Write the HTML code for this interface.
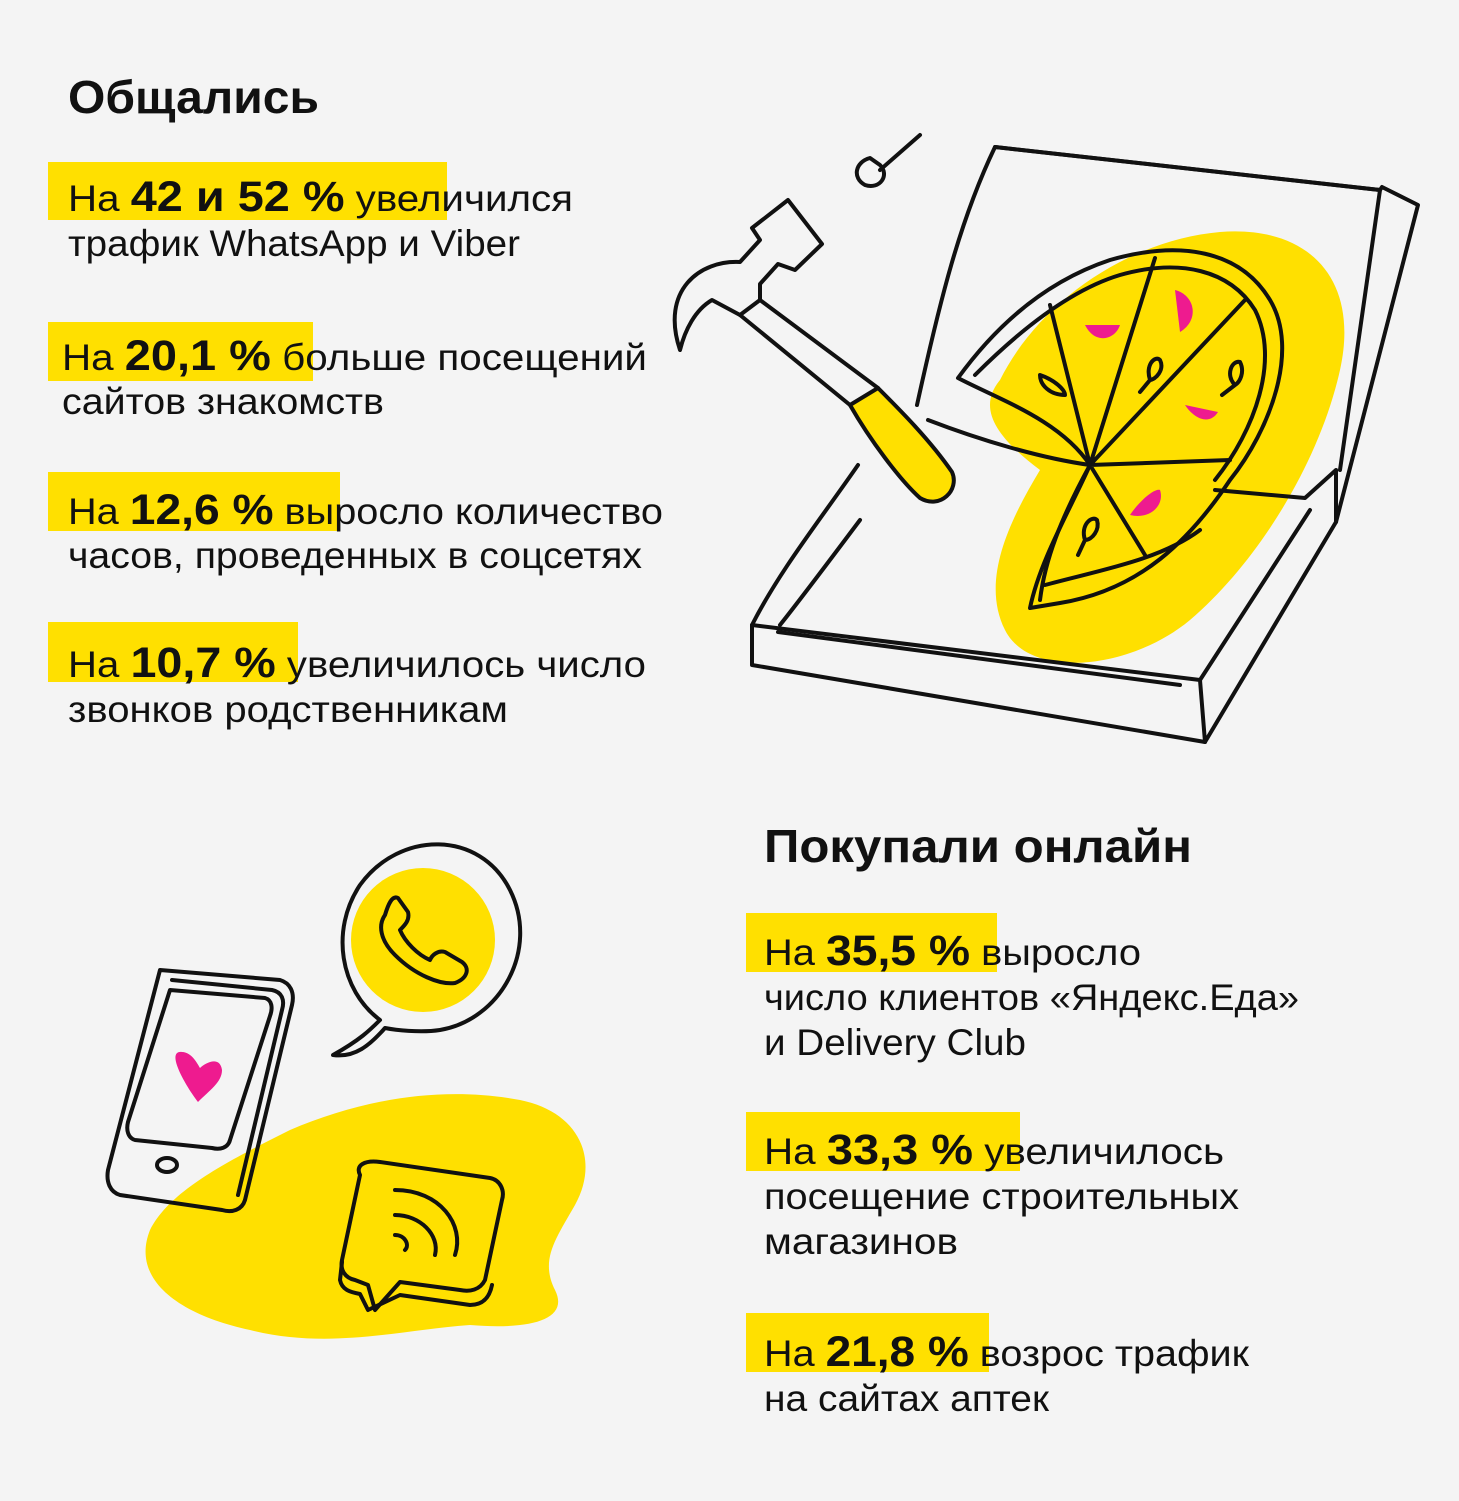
<!DOCTYPE html>
<html><head><meta charset="utf-8"><style>
html,body{margin:0;padding:0;background:#f4f4f4;}
svg{display:block}
text{font-family:"Liberation Sans","DejaVu Sans",sans-serif;fill:#111;}
.r{font-size:37px;}
.b{font-weight:bold;font-size:43px;}
.t{font-weight:bold;font-size:46px;}
</style></head><body>
<svg width="1459" height="1501" viewBox="0 0 1459 1501" xmlns="http://www.w3.org/2000/svg">
<rect width="1459" height="1501" fill="#f4f4f4"/>
<!-- highlights -->
<g fill="#ffe000">
<rect x="48" y="162" width="399" height="58"/>
<rect x="48" y="322" width="265" height="59"/>
<rect x="48" y="472" width="292" height="59"/>
<rect x="48" y="622" width="250" height="60"/>
<rect x="746" y="913" width="251" height="59"/>
<rect x="746" y="1112" width="274" height="59"/>
<rect x="746" y="1313" width="243" height="59"/>
</g>
<text class="t" x="68" y="113" textLength="251" lengthAdjust="spacingAndGlyphs">Общались</text>
<text class="r" x="68" y="211" textLength="505" lengthAdjust="spacingAndGlyphs">На <tspan class="b">42 и 52 %</tspan> увеличился</text>
<text class="r" x="68" y="256" textLength="452" lengthAdjust="spacingAndGlyphs">трафик WhatsApp и Viber</text>
<text class="r" x="62" y="370" textLength="585" lengthAdjust="spacingAndGlyphs">На <tspan class="b">20,1 %</tspan> больше посещений</text>
<text class="r" x="62" y="414" textLength="322" lengthAdjust="spacingAndGlyphs">сайтов знакомств</text>
<text class="r" x="68" y="524" textLength="595" lengthAdjust="spacingAndGlyphs">На <tspan class="b">12,6 %</tspan> выросло количество</text>
<text class="r" x="68" y="568" textLength="574" lengthAdjust="spacingAndGlyphs">часов, проведенных в соцсетях</text>
<text class="r" x="68" y="677" textLength="578" lengthAdjust="spacingAndGlyphs">На <tspan class="b">10,7 %</tspan> увеличилось число</text>
<text class="r" x="68" y="722" textLength="440" lengthAdjust="spacingAndGlyphs">звонков родственникам</text>

<text class="t" x="764" y="862" textLength="428" lengthAdjust="spacingAndGlyphs">Покупали онлайн</text>
<text class="r" x="764" y="965" textLength="377" lengthAdjust="spacingAndGlyphs">На <tspan class="b">35,5 %</tspan> выросло</text>
<text class="r" x="764" y="1010" textLength="535" lengthAdjust="spacingAndGlyphs">число клиентов «Яндекс.Еда»</text>
<text class="r" x="764" y="1055" textLength="262" lengthAdjust="spacingAndGlyphs">и Delivery Club</text>
<text class="r" x="764" y="1164" textLength="460" lengthAdjust="spacingAndGlyphs">На <tspan class="b">33,3 %</tspan> увеличилось</text>
<text class="r" x="764" y="1209" textLength="475" lengthAdjust="spacingAndGlyphs">посещение строительных</text>
<text class="r" x="764" y="1254" textLength="194" lengthAdjust="spacingAndGlyphs">магазинов</text>
<text class="r" x="764" y="1366" textLength="485" lengthAdjust="spacingAndGlyphs">На <tspan class="b">21,8 %</tspan> возрос трафик</text>
<text class="r" x="764" y="1411" textLength="285" lengthAdjust="spacingAndGlyphs">на сайтах аптек</text>

<!-- pizza illustration -->
<path d="M1000 380 C1040 300 1130 240 1220 232 C1310 225 1360 280 1340 370 C1320 460 1260 560 1190 620 C1130 670 1030 680 1005 630 C980 580 1010 520 1040 470 C1000 440 975 410 1000 380Z" fill="#ffe000"/>
<g fill="none" stroke="#111" stroke-width="4" stroke-linecap="round" stroke-linejoin="round">
<path d="M917 405 C940 300 960 220 995 147 L1380 190 L1382 187 L1418 205 L1336 522 L1336 470 L1305 498 L1215 490"/>
<path d="M995 147 L1380 190 L1340 470"/>
<path d="M928 420 C980 440 1040 458 1090 465"/>
<path d="M858 465 C820 520 780 570 752 625 L752 665 L1205 742 L1336 522"/>
<path d="M752 625 L1200 680 L1205 742"/>
<path d="M780 625 C800 600 830 560 860 520"/>
<path d="M778 632 L1180 685"/>
<path d="M1200 680 L1310 510"/>
<path d="M958 378 C1000 320 1050 280 1110 260 C1180 240 1240 250 1270 300 C1300 350 1270 430 1230 480 C1190 540 1140 590 1060 603 L1030 608 C1040 560 1070 510 1090 465 C1060 420 1000 400 958 378Z"/>
<path d="M975 375 C1020 330 1070 290 1120 275 C1180 258 1230 270 1255 310 C1280 360 1255 430 1215 480"/>
<path d="M1090 465 L1050 305 M1090 465 L1155 258 M1090 465 L1245 300 M1090 465 L1230 460 M1090 465 L1145 555 M1090 465 C1060 520 1045 560 1040 600"/>
<path d="M1045 585 C1100 570 1160 560 1200 530"/>
<path d="M1040 375 C1055 380 1065 390 1065 395 C1050 395 1040 385 1040 375Z"/>
<path d="M1150 380 C1145 365 1155 355 1160 360 C1165 370 1155 380 1150 380Z M1150 380 L1140 392"/>
<path d="M1235 385 C1225 375 1232 360 1240 362 C1245 372 1240 382 1235 385Z M1235 385 L1222 395"/>
<path d="M1085 540 C1080 525 1092 515 1097 520 C1100 530 1092 540 1085 540Z M1085 540 L1078 555"/>
<!-- hammer -->
<path d="M680 350 C660 290 700 260 740 262 L760 240 L752 228 L788 200 L822 244 L795 270 L778 264 L760 284 L760 300 L740 315 L712 300 C695 310 685 330 680 350Z"/>
<path d="M740 315 L850 405 M760 300 L878 388"/>
<path d="M850 405 C870 440 900 480 920 498 C940 510 960 490 952 472 C930 440 900 410 878 388 Z" fill="#ffe000"/>
<path d="M880 170 L920 135 M870 158 C855 162 852 178 865 185 C880 190 890 175 880 165Z"/>
</g>
<g fill="#ee1b8f">
<path d="M1085 325 L1120 325 C1115 340 1095 345 1085 325Z"/>
<path d="M1175 290 C1195 295 1200 320 1180 332Z"/>
<path d="M1185 405 C1195 420 1210 425 1218 412Z"/>
<path d="M1130 515 C1140 500 1155 488 1160 490 C1165 505 1150 520 1130 515Z"/>
</g>

<!-- phone and chat illustration -->
<path d="M150 1230 C170 1190 230 1160 290 1130 C360 1100 440 1085 520 1100 C580 1112 600 1160 575 1205 C555 1240 540 1260 555 1290 C570 1320 530 1330 470 1325 C400 1330 330 1350 250 1330 C180 1315 130 1280 150 1230Z" fill="#ffe000"/>
<circle cx="423" cy="940" r="72" fill="#ffe000"/>
<g fill="none" stroke="#111" stroke-width="4" stroke-linecap="round" stroke-linejoin="round">
<path d="M333 1055 C360 1040 370 1030 380 1020 C340 990 330 930 360 885 C400 830 480 830 510 890 C540 950 500 1020 440 1030 C420 1033 395 1030 385 1028 C370 1045 355 1058 333 1055Z"/>
<path d="M385 915 C378 925 380 940 395 955 C415 975 440 985 455 983 C468 978 470 968 462 962 L445 952 C438 950 432 955 430 960 C418 955 405 942 400 930 C405 925 410 920 408 912 L398 898 C392 895 388 905 385 915Z"/>
<path d="M160 970 L280 980 C290 983 295 992 292 1005 L245 1200 C242 1210 232 1213 222 1210 L120 1195 C110 1192 106 1182 108 1170 Z"/>
<path d="M172 980 L272 990 C282 992 285 1000 282 1010 L238 1195"/>
<path d="M170 990 L265 998 C272 1000 273 1008 270 1016 L230 1140 C228 1148 220 1150 212 1148 L135 1140 C128 1138 126 1130 128 1122 Z"/>
<ellipse cx="167" cy="1165" rx="10" ry="7"/>
<path d="M360 1175 C355 1165 365 1160 380 1162 L490 1178 C500 1180 505 1190 502 1200 L485 1280 C480 1290 470 1292 460 1290 L400 1282 L375 1310 L368 1285 L355 1280 C345 1278 340 1270 342 1260 Z" fill="#ffe000"/>
<path d="M342 1262 L340 1280 C342 1290 350 1292 360 1294 L368 1310 L400 1295 L470 1305 C485 1305 490 1295 492 1285"/>
<path d="M395 1215 C420 1215 440 1235 435 1255 M395 1190 C440 1190 465 1225 455 1255 M395 1235 C405 1235 410 1245 405 1250"/>
</g>
<path d="M198 1102 C185 1085 165 1050 182 1052 C192 1052 198 1065 200 1068 C205 1063 220 1055 222 1070 C222 1082 210 1090 198 1102Z" fill="#ee1b8f"/>
</svg>
</body></html>
